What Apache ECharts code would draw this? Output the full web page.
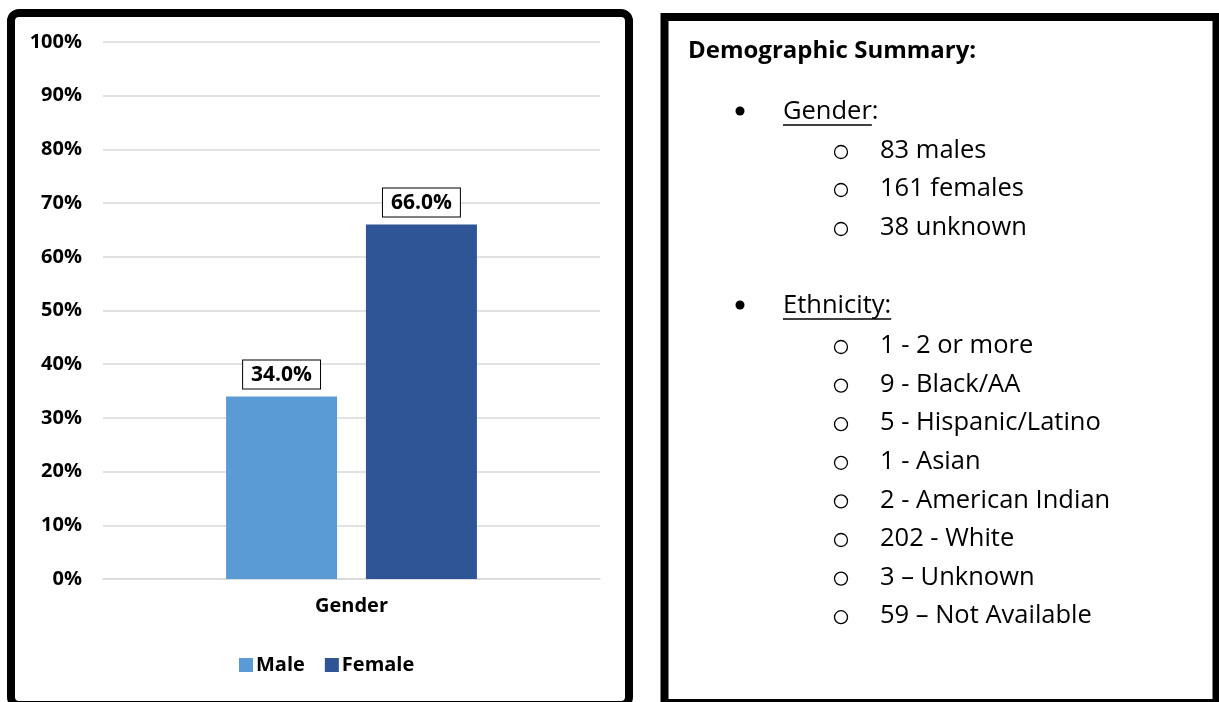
<!DOCTYPE html>
<html>
<head>
<meta charset="utf-8">
<script src="https://cdn.jsdelivr.net/npm/echarts@6/dist/echarts.min.js"></script>
<style>
  html, body { margin: 0; padding: 0; background: #fff; }
  #chart { width: 1219px; height: 702px; }
</style>
</head>
<body>
<div id="chart"></div>
<script>
// chart data
const categories = ['Gender']
const seriesNames = ['Male', 'Female']
const maleValues = [0.34]
const femaleValues = [0.66]
const barColors = ['#5B9BD5', '#2F5597']

// summary panel text
const summaryTitle = 'Demographic Summary:'
const genderItems = ['83 males', '161 females', '38 unknown']
const ethnicityItems = [
  '1 - 2 or more',
  '9 - Black/AA',
  '5 - Hispanic/Latino',
  '1 - Asian',
  '2 - American Indian',
  '202 - White',
  '3 \u2013 Unknown',
  '59 \u2013 Not Available'
]

const FONT = '"Open Sans", "Noto Sans", sans-serif'

// measure text width so underlines fit the words
const measure = (text, font) => {
  const ctx = document.createElement('canvas').getContext('2d')
  ctx.font = font
  return ctx.measureText(text).width
}

const myChart = echarts.init(document.getElementById('chart'))

const graphics = []

// panel borders
graphics.push({
  type: 'rect',
  shape: { x: 11, y: 13, width: 618, height: 692, r: 8 },
  style: { fill: 'none', stroke: '#000', lineWidth: 8 },
  z: 10
})
graphics.push({
  type: 'rect',
  shape: { x: 664.5, y: 17, width: 552, height: 686 },
  style: { fill: 'none', stroke: '#000', lineWidth: 8 },
  z: 10
})

// summary text
const textSize = 25.5
const textFont = `${textSize}px ${FONT}`
graphics.push({
  type: 'text',
  x: 688, y: 51,
  style: { text: summaryTitle, font: `bold 24px ${FONT}`, fill: '#000', textVerticalAlign: 'middle' }
})

const addHeading = (label, y, underlineWithColon) => {
  graphics.push({ type: 'circle', shape: { cx: 740, cy: y, r: 4.5 }, style: { fill: '#000' } })
  graphics.push({
    type: 'text', x: 783, y: y + 1,
    style: { text: label + ':', font: textFont, fill: '#000', textVerticalAlign: 'middle' }
  })
  const w = measure(underlineWithColon ? label + ':' : label, textFont)
  graphics.push({
    type: 'line',
    shape: { x1: 783, y1: y + 14, x2: 783 + w, y2: y + 14 },
    style: { stroke: '#000', lineWidth: 1.5 }
  })
}

const addItem = (label, y) => {
  graphics.push({ type: 'circle', shape: { cx: 841, cy: y + 2, r: 6.5 }, style: { fill: 'none', stroke: '#000', lineWidth: 1.3 } })
  graphics.push({
    type: 'text', x: 880, y: y + 1,
    style: { text: label, font: textFont, fill: '#000', textVerticalAlign: 'middle' }
  })
}

addHeading('Gender', 111, false)
const genderY = [150, 188, 227]
genderItems.forEach((t, i) => addItem(t, genderY[i]))

addHeading('Ethnicity', 305, true)
ethnicityItems.forEach((t, i) => addItem(t, 345 + i * 38.6))

const labelStyle = {
  show: true,
  position: 'top',
  distance: 8,
  formatter: (p) => (p.value * 100).toFixed(1) + '%',
  color: '#000',
  fontFamily: FONT,
  fontWeight: 'bold',
  fontSize: 21,
  borderColor: '#000',
  borderWidth: 1,
  padding: [4, 8, 3, 8],
  backgroundColor: '#fff'
}

const option = {
  animation: false,
  color: barColors,
  textStyle: { fontFamily: FONT },
  grid: { left: 103, right: 619, top: 42, bottom: 123 },
  legend: {
    data: seriesNames,
    left: 234,
    top: 650,
    icon: 'rect',
    itemWidth: 14,
    itemHeight: 14,
    itemGap: 20,
    textStyle: { fontFamily: FONT, fontWeight: 'bold', fontSize: 20, color: '#000', padding: [0, 0, 0, -2] }
  },
  xAxis: {
    type: 'category',
    data: categories,
    axisLine: { lineStyle: { color: '#d9d9d9', width: 1.5 } },
    axisTick: { show: false },
    axisLabel: { color: '#000', fontFamily: FONT, fontWeight: 'bold', fontSize: 20, margin: 17 }
  },
  yAxis: {
    type: 'value',
    min: 0,
    max: 1,
    interval: 0.1,
    axisLine: { show: false },
    axisTick: { show: false },
    splitLine: { lineStyle: { color: '#d9d9d9', width: 1.5 } },
    axisLabel: {
      color: '#000',
      fontFamily: FONT,
      fontWeight: 'bold',
      fontSize: 20,
      margin: 21,
      formatter: (v) => Math.round(v * 100) + '%'
    }
  },
  series: [
    { name: seriesNames[0], type: 'bar', data: maleValues, barWidth: 111, barGap: '26%', label: labelStyle },
    { name: seriesNames[1], type: 'bar', data: femaleValues, barWidth: 111, barGap: '26%', label: labelStyle }
  ],
  graphic: graphics
}

myChart.setOption(option)
</script>
</body>
</html>
